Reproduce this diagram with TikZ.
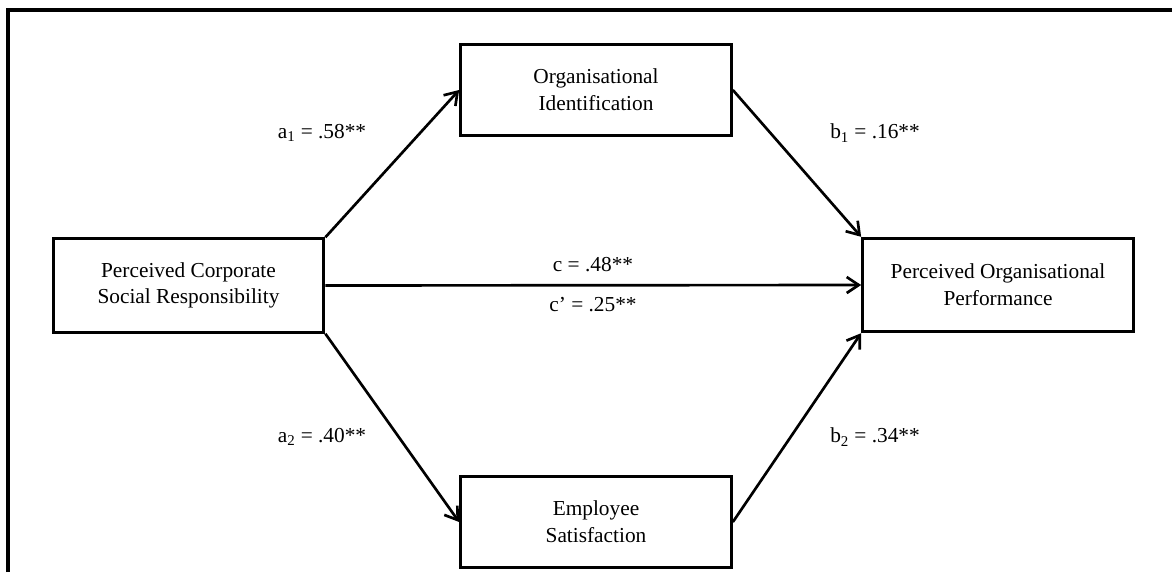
\documentclass[tikz,border=0pt]{standalone}
\usepackage{fontspec}
\setmainfont{Liberation Serif}
\usetikzlibrary{arrows.meta}

\tikzset{
  varbox/.style={draw, line width=2.3pt, minimum width=203pt, minimum height=70pt, align=center, inner sep=0pt, font=\fontsize{16}{20}\selectfont},
  path/.style={line width=2pt, -{Straight Barb[length=9pt,width=12pt,line width=2pt]}},
  coef/.style={inner sep=0.75pt, font=\fontsize{16}{20}\selectfont}
}

\begin{document}
\begin{tikzpicture}[x=0.75pt,y=0.75pt,yscale=-1,xscale=1]
    \useasboundingbox (0,0) rectangle (1172,572);

    %Frame
    \draw [line width=2.5pt]  (8,572) -- (8,10) -- (1172,10) ;

    % Boxes
    \node (csr) [varbox] at (188.5,285.5) {Perceived Corporate\\Social Responsibility};
    \node (oi) [varbox, minimum height=68pt] at (596,90) {Organisational\\Identification};
    \node (es) [varbox, minimum height=68pt] at (596,522) {Employee\\Satisfaction};
    \node (pop) [varbox] at (998,285) {Perceived Organisational\\Performance};

    % Paths
    \draw [path]  (csr.north east) -- (oi.west) ;
    \draw [path]  (oi.east) -- (pop.north west) ;
    \draw [path]  (csr.east) -- (pop.west) ;
    \draw [path]  (csr.south east) -- (es.west) ;
    \draw [path]  (es.east) -- (pop.south west) ;

    % Text Node
    \node (a1) [coef] at (322,133) {a\textsubscript{1} = .58**};
    % Text Node
    \node (b1) [coef] at (875,133) {b\textsubscript{1} = .16**};
    % Text Node
    \node (c) [coef] at (593,265) {c = .48**};
    % Text Node
    \node (cp) [coef] at (593,305) {c’ = .25**};
    % Text Node
    \node (a2) [coef] at (322,437) {a\textsubscript{2} = .40**};
    % Text Node
    \node (b2) [coef] at (875,437) {b\textsubscript{2} = .34**};

\end{tikzpicture}
\end{document}
